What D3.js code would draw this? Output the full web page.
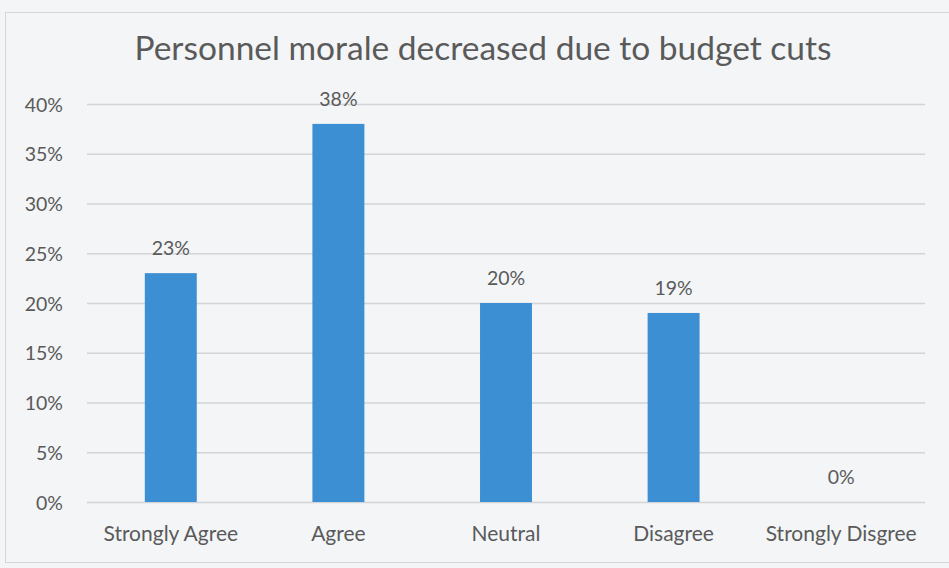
<!DOCTYPE html>
<html>
<head>
<meta charset="utf-8">
<script src="https://cdn.jsdelivr.net/npm/d3@7"></script>
<style>
  html, body { margin: 0; padding: 0; background: #f3f5f7; }
  svg { display: block; }
  text { font-family: Lato, "Open Sans", "Noto Sans", sans-serif; fill: #5a5a5a; }
</style>
</head>
<body>
<svg id="chart" width="949" height="568"></svg>
<script>
// Survey responses: "Personnel morale decreased due to budget cuts"
const title = "Personnel morale decreased due to budget cuts";
const categories = ["Strongly Agree", "Agree", "Neutral", "Disagree", "Strongly Disgree"];
const shares = [0.23, 0.38, 0.20, 0.19, 0.00];
const yTicks = [0, 0.05, 0.10, 0.15, 0.20, 0.25, 0.30, 0.35, 0.40];

const svg = d3.select("#chart");
const W = 949, H = 568;
const margin = { left: 87, right: 24, top: 104, bottom: 66 };
const innerW = W - margin.left - margin.right;
const innerH = H - margin.top - margin.bottom;
const pct = d3.format(".0%");

// chart frame
svg.append("rect")
  .attr("x", 5.5).attr("y", 12.5)
  .attr("width", W - 4).attr("height", 550)
  .attr("fill", "#f3f5f7")
  .attr("stroke", "#d4d6d8").attr("stroke-width", 1);

const x = d3.scaleBand()
  .domain(categories)
  .range([0, innerW])
  .paddingInner(0.69)
  .paddingOuter(0.345);

const y = d3.scaleLinear().domain([0, 0.40]).range([innerH, 0]);

const g = svg.append("g").attr("transform", `translate(${margin.left},${margin.top})`);

// horizontal gridlines + y labels
const yAxis = d3.axisLeft(y)
  .tickValues(yTicks)
  .tickFormat(pct)
  .tickSize(-innerW)
  .tickPadding(24);

const ya = g.append("g").call(yAxis);
ya.select(".domain").remove();
ya.selectAll(".tick line").attr("stroke", "#d2d4d6").attr("stroke-width", 1.3);
ya.selectAll(".tick text")
  .attr("font-size", 19.5)
  .attr("dy", "0.36em")
  .style("font-family", "Lato, 'Open Sans', sans-serif")
  .attr("fill", "#5a5a5a");

const rows = categories.map((c, i) => ({ c, v: shares[i] }));

// bars
g.selectAll("rect.bar")
  .data(rows)
  .join("rect")
  .attr("class", "bar")
  .attr("x", d => x(d.c))
  .attr("width", x.bandwidth())
  .attr("y", d => y(d.v))
  .attr("height", d => innerH - y(d.v))
  .attr("fill", "#3c8fd2");

// value labels
g.selectAll("text.val")
  .data(rows)
  .join("text")
  .attr("class", "val")
  .attr("x", d => x(d.c) + x.bandwidth() / 2)
  .attr("y", d => y(d.v) - 18)
  .attr("text-anchor", "middle")
  .attr("font-size", 19.5)
  .text(d => pct(d.v));

// category labels
const xAxis = d3.axisBottom(x).tickSize(0).tickPadding(24);
const xa = g.append("g").attr("transform", `translate(0,${innerH})`).call(xAxis);
xa.select(".domain").remove();
xa.selectAll(".tick text")
  .attr("font-size", 21)
  .style("font-family", "Lato, 'Open Sans', sans-serif")
  .attr("fill", "#5a5a5a");

// title
svg.append("text")
  .attr("x", 483).attr("y", 60)
  .attr("text-anchor", "middle")
  .attr("font-size", 33.5)
  .attr("fill", "#555")
  .text(title);
</script>
</body>
</html>
